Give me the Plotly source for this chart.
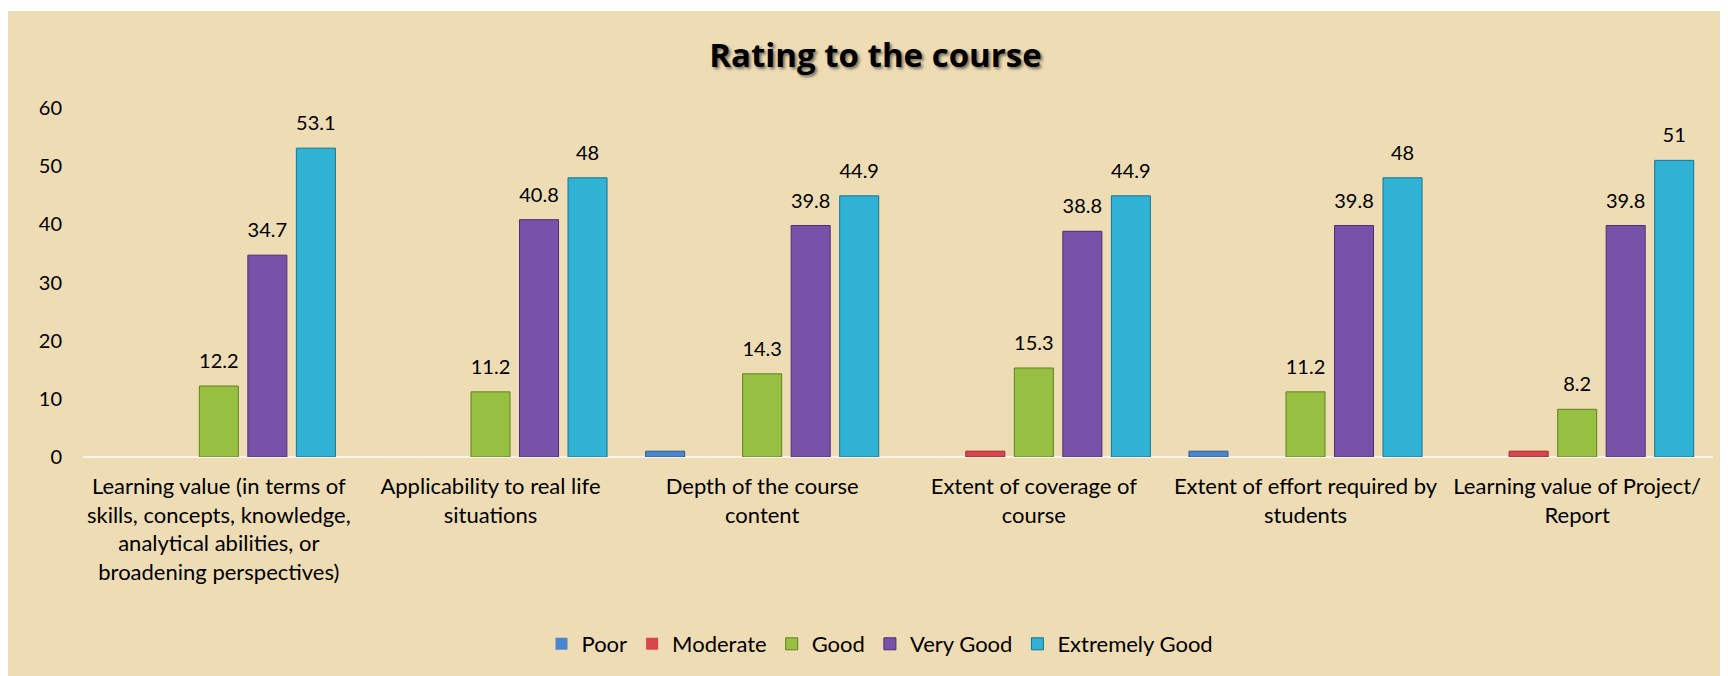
import plotly.graph_objects as go

categories = [
    "Learning value (in terms of<br>skills, concepts, knowledge,<br>analytical abilities, or<br>broadening perspectives)",
    "Applicability to real life<br>situations",
    "Depth of the course<br>content",
    "Extent of coverage of<br>course",
    "Extent of effort required by<br>students",
    "Learning value of Project/<br>Report",
]
series_names = ["Poor", "Moderate", "Good", "Very Good", "Extremely Good"]
poor = [0, 0, 1.0, 0, 1.0, 0]
moderate = [0, 0, 0, 1.0, 0, 1.0]
good = [12.2, 11.2, 14.3, 15.3, 11.2, 8.2]
very_good = [34.7, 40.8, 39.8, 38.8, 39.8, 39.8]
extremely_good = [53.1, 48, 44.9, 44.9, 48, 51]
# data labels shown in the reference (the small 1.0 bars carry no label)
labels_poor = ["", "", "", "", "", ""]
labels_moderate = ["", "", "", "", "", ""]
labels_good = ["12.2", "11.2", "14.3", "15.3", "11.2", "8.2"]
labels_very_good = ["34.7", "40.8", "39.8", "38.8", "39.8", "39.8"]
labels_extremely_good = ["53.1", "48", "44.9", "44.9", "48", "51"]

values = [poor, moderate, good, very_good, extremely_good]
labels = [labels_poor, labels_moderate, labels_good, labels_very_good, labels_extremely_good]
colors = ["#4A86D0", "#D9464A", "#97C043", "#7852A9", "#30B2D4"]
edges = ["#2C5A96", "#9A2A2C", "#5F8020", "#4A2F70", "#1A7290"]

FONT = "Lato, Calibri, sans-serif"
W, H = 1728, 676
L, R, T, B = 75, 23, 100, 227
PW, PH = W - L - R, H - T - B
GAP, GROUPGAP = 0.107, 0.196

fig = go.Figure()
for name, vals, c, e in zip(series_names, values, colors, edges):
    fig.add_trace(go.Bar(
        x=categories, y=vals, name=name,
        marker=dict(color=c, line=dict(color=e, width=[1 if v > 0 else 0 for v in vals])),
        hoverinfo="x+y+name",
    ))
# value labels, grouped the same way as the bars
for name, vals, labs in zip(series_names, values, labels):
    fig.add_trace(go.Scatter(
        x=categories, y=vals, text=labs, mode="markers+text",
        textposition="top center", cliponaxis=False,
        marker=dict(size=19, opacity=0),
        textfont=dict(family=FONT, size=20, color="#000000"),
        showlegend=False, hoverinfo="skip",
    ))

# thin white strip along the top edge (as in the reference page)
fig.add_shape(type="rect", xref="paper", yref="paper", layer="below",
              x0=-(L + 5) / PW, x1=(W - L + 5) / PW,
              y0=(H - B - 3) / PH, y1=(H - B + 5) / PH,
              fillcolor="white", line=dict(width=0))

fig.update_layout(
    width=W, height=H,
    margin=dict(l=L, r=R, t=T, b=B, autoexpand=False),
    paper_bgcolor="#EEDCB5", plot_bgcolor="rgba(0,0,0,0)",
    barmode="group", bargap=GAP, bargroupgap=GROUPGAP,
    scattermode="group", scattergap=GAP,
    title=dict(text="Rating to the course", x=0.502, xref="container", xanchor="center",
               y=1 - 47 / H, yref="container", yanchor="middle",
               font=dict(family="Open Sans, sans-serif", size=33, weight="bold", color="#000000",
                         shadow="2px 2px 3px rgba(0,0,0,0.5)")),
    font=dict(family=FONT, size=20, color="#000000"),
    xaxis=dict(showgrid=False, showline=False, zeroline=False, ticks="",
               tickfont=dict(family=FONT, size=22, color="#000000"),
               ticklabelstandoff=14),
    yaxis=dict(range=[0, 60], dtick=10, showgrid=False, showline=False,
               zeroline=True, zerolinecolor="rgba(248,246,240,0.9)", zerolinewidth=2,
               tickfont=dict(family=FONT, size=20, color="#000000"),
               ticklabelstandoff=20),
    legend=dict(orientation="h", xref="container", yref="container",
                x=872 / W, xanchor="center", y=1 - 636 / H, yanchor="middle",
                font=dict(family=FONT, size=22, color="#000000"),
                bgcolor="rgba(0,0,0,0)", itemwidth=30, traceorder="normal"),
    showlegend=True,
)

fig.write_html("out.html")
